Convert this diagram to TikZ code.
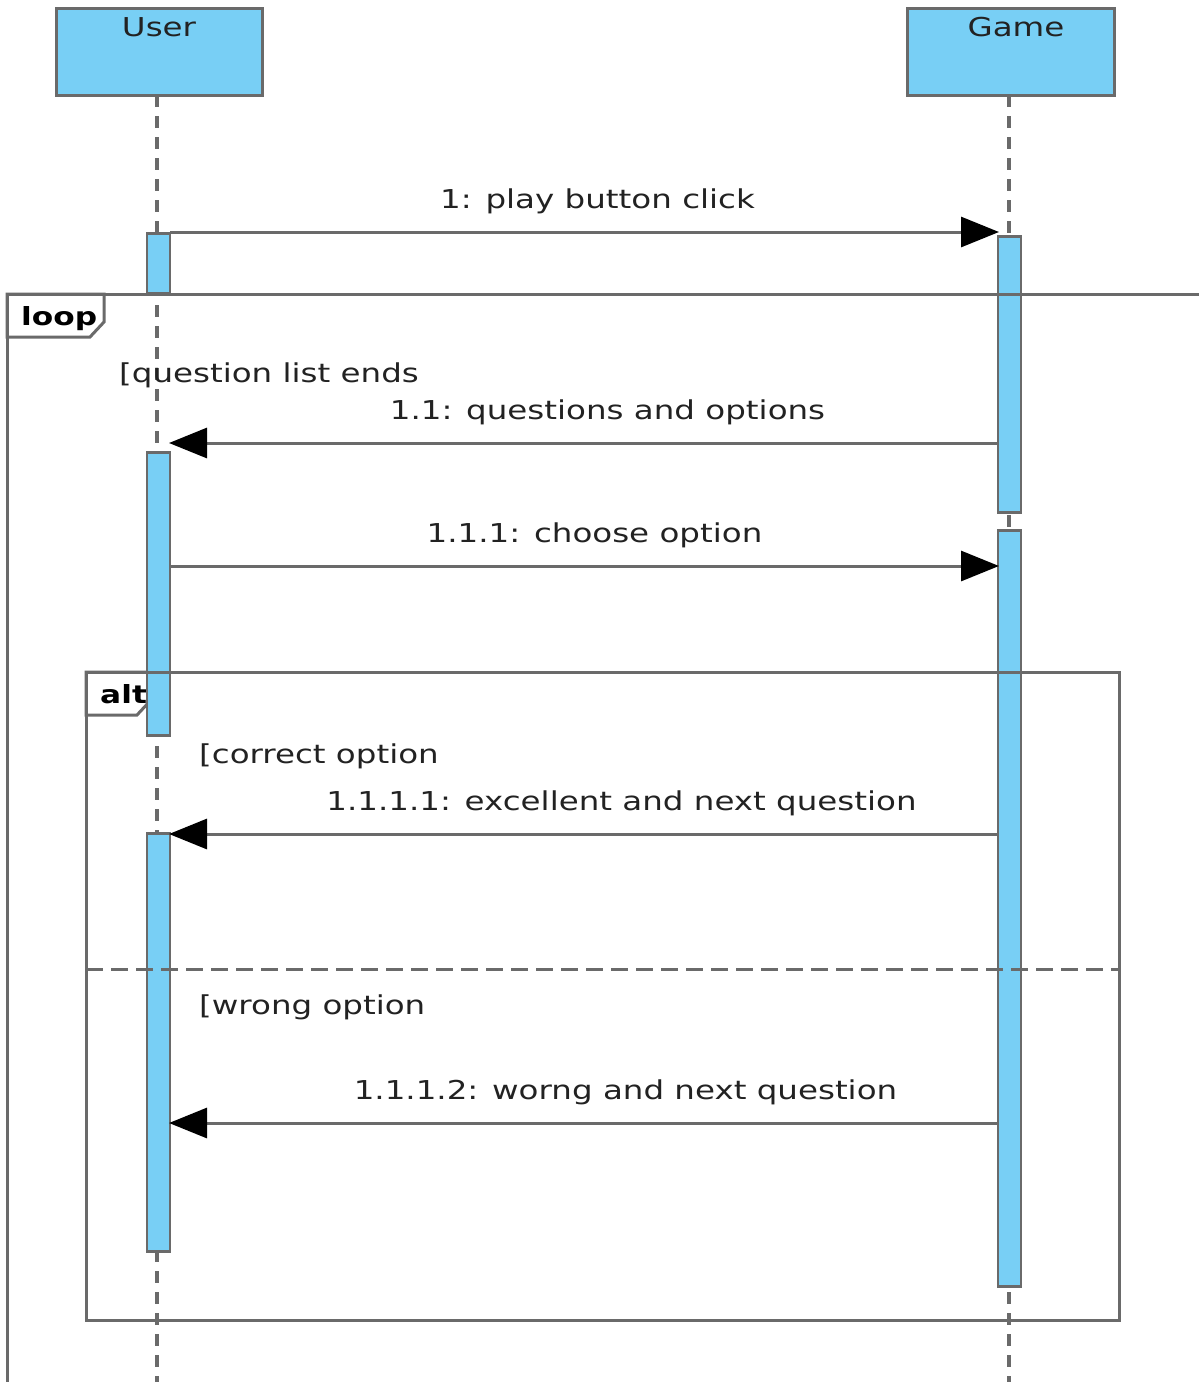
\documentclass[tikz,border=0pt]{standalone}
\usepackage{fontspec}
\setmainfont{DejaVu Sans}[FakeStretch=1.25]
\usetikzlibrary{arrows.meta}
\definecolor{actblue}{HTML}{78CFF5}
\definecolor{lineg}{HTML}{6A6A6A}
\definecolor{txtg}{HTML}{222222}
\tikzset{
  lifebox/.style={draw=lineg, line width=3pt, fill=actblue},
  lifeline/.style={draw=lineg, line width=3.5pt, dash pattern=on 12pt off 9pt},
  actbar/.style={draw=lineg, line width=2.5pt, fill=actblue, inner sep=0pt, minimum width=23pt, anchor=north},
  msgline/.style={draw=lineg, line width=3pt, -{Triangle[length=38pt,width=30pt,color=black]}},
  frameline/.style={draw=lineg, line width=3pt},
  lbl/.style={font=\fontsize{26}{30}\selectfont, text=txtg, inner sep=0pt},
  msglbl/.style={lbl, anchor=base, yshift=24pt},
  framelbl/.style={font=\fontsize{25}{29}\selectfont\bfseries, text=black, inner sep=0pt, anchor=base west},
}
\begin{document}
\begin{tikzpicture}[x=1pt,y=-1pt]
\useasboundingbox[fill=white] (0,0) rectangle (1199,1382);
% lifeline heads
\draw[lifebox] (56,8) rectangle (262,95);
\node[lbl, anchor=base] (user) at (159,36) {User};
\draw[lifebox] (907,8) rectangle (1114,95);
\node[lbl, anchor=base] (game) at (1016,36) {Game};
% lifelines
\coordinate (uTop) at (157,95);
\coordinate (uBot) at (157,1382);
\coordinate (gTop) at (1009,95);
\coordinate (gBot) at (1009,1382);
\draw[lifeline] (uTop) -- (uBot);
\draw[lifeline] (gTop) -- (gBot);
% frame labels
\draw[frameline, fill=white] (7,294) -- (104,294) -- (104,322) -- (90,337) -- (7,337) -- cycle;
\node[framelbl] (looplbl) at (21,325) {loop};
\draw[frameline, fill=white] (86,672) -- (151,672) -- (151,700) -- (137,715) -- (86,715) -- cycle;
\node[framelbl] (altlbl) at (100,703) {alt};
% activations
\node[actbar, minimum height=60pt] (ua1) at (158.5,232) {};
\node[actbar, minimum height=276pt] (ga1) at (1009.5,235) {};
\node[actbar, minimum height=756pt] (ga2) at (1009.5,529) {};
\node[actbar, minimum height=283pt] (ua2) at (158.5,451) {};
\node[actbar, minimum height=418pt] (ua3) at (158.5,832) {};
% frame outlines
\draw[frameline] (7,1390) -- (7,294) -- (1210,294);
\draw[frameline] (86,672) rectangle (1119,1320);
\draw[draw=lineg, line width=3pt, dash pattern=on 17pt off 8pt] (86,969) -- (1119,969);
% guards
\node[lbl, anchor=base west] (g1) at (119,382) {[question list ends};
\node[lbl, anchor=base west] (g2) at (199,763) {[correct option};
\node[lbl, anchor=base west] (g3) at (199,1014) {[wrong option};
% messages
\draw[msgline] (170,232) -- (999,232) node[msglbl, midway, xshift=13pt] (l1) {1: play button click};
\draw[msgline] (998,443) -- (169,443) node[msglbl, midway, xshift=24pt] (l2) {1.1: questions and options};
\draw[msgline] (170,566) -- (999,566) node[msglbl, midway, xshift=10pt] (l3) {1.1.1: choose option};
\draw[msgline] (998,834) -- (169,834) node[msglbl, midway, xshift=38pt] (l4) {1.1.1.1: excellent and next question};
\draw[msgline] (998,1123) -- (169,1123) node[msglbl, midway, xshift=42pt] (l5) {1.1.1.2: worng and next question};
\end{tikzpicture}
\end{document}
